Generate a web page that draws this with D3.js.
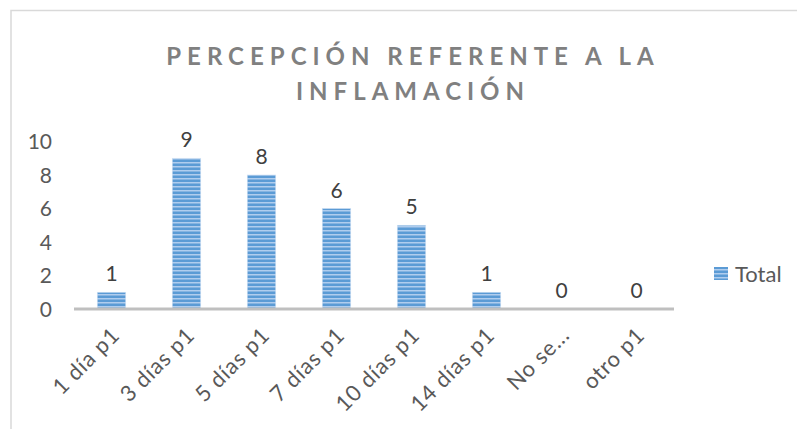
<!DOCTYPE html>
<html><head><meta charset="utf-8">
<script src="https://cdn.jsdelivr.net/npm/d3@7"></script>
<style>body{margin:0;background:#fff}svg{display:block}text{font-family:Lato,"Open Sans",sans-serif}</style>
</head><body>
<svg id="c" width="797" height="429"></svg>
<script>
const categories = ["1 día p1","3 días p1","5 días p1","7 días p1","10 días p1","14 días p1","No se...","otro p1"];
const values = [1,9,8,6,5,1,0,0];
const yTicks = [0,2,4,6,8,10];
const seriesName = "Total";
const titleLines = ["PERCEPCIÓN REFERENTE A LA","INFLAMACIÓN"];

const svg = d3.select("#c");
const defs = svg.append("defs");
const pat = defs.append("pattern").attr("id","stripes").attr("patternUnits","userSpaceOnUse")
  .attr("width",4).attr("height",4);
pat.append("rect").attr("width",4).attr("height",4).attr("fill","#5b9bd5");
pat.append("rect").attr("y",2).attr("width",4).attr("height",1.5).attr("fill","#b0cdee");

// chart border
svg.append("rect").attr("x",11).attr("y",10.5).attr("width",900).attr("height",500)
  .attr("fill","none").attr("stroke","#d9d9d9").attr("stroke-width",1.5);

const x = d3.scaleBand().domain(categories).range([74,674]).paddingInner(0.62).paddingOuter(0.31);
const y = d3.scaleLinear().domain([0,10]).range([309,141.5]);

// title
svg.append("g").selectAll("text").data(titleLines).join("text")
  .attr("x",413).attr("y",(d,i)=>65+i*35).attr("text-anchor","middle")
  .attr("font-size",24).attr("font-weight","bold").attr("letter-spacing",6)
  .attr("fill","#808080").text(d=>d);

// y axis labels
svg.append("g").selectAll("text").data(yTicks).join("text")
  .attr("x",52).attr("y",d=>y(d)).attr("dy","0.36em").attr("text-anchor","end")
  .attr("font-size",21).attr("fill","#595959").text(d=>d);

// bars
svg.append("g").selectAll("rect").data(values).join("rect")
  .attr("x",(d,i)=>x(categories[i])).attr("width",x.bandwidth())
  .attr("y",d=>y(d)).attr("height",d=>y(0)-y(d))
  .attr("fill","url(#stripes)").attr("stroke","#cfe0f3").attr("stroke-width",0.6);

// axis line
svg.append("line").attr("x1",74).attr("x2",674).attr("y1",309).attr("y2",309)
  .attr("stroke","#bfbfbf").attr("stroke-width",3);

// data labels
svg.append("g").selectAll("text").data(values).join("text")
  .attr("x",(d,i)=>x(categories[i])+x.bandwidth()/2).attr("y",d=>y(d)-11)
  .attr("text-anchor","middle").attr("font-size",21).attr("fill","#404040").text(d=>d);

// x labels
svg.append("g").selectAll("text").data(categories).join("text")
  .attr("transform",d=>`translate(${x(d)+x.bandwidth()/2+4},${331}) rotate(-45)`)
  .attr("text-anchor","end").attr("dy","0.36em").attr("letter-spacing",0.8)
  .attr("font-size",22).attr("fill","#595959").text(d=>d);

// legend
const lg = svg.append("g").attr("transform","translate(714,267)");
lg.append("rect").attr("width",14).attr("height",13).attr("fill","url(#stripes)");
lg.append("text").attr("x",21).attr("y",7).attr("dy","0.36em").attr("font-size",22)
  .attr("fill","#595959").text(seriesName);
</script>
</body></html>
